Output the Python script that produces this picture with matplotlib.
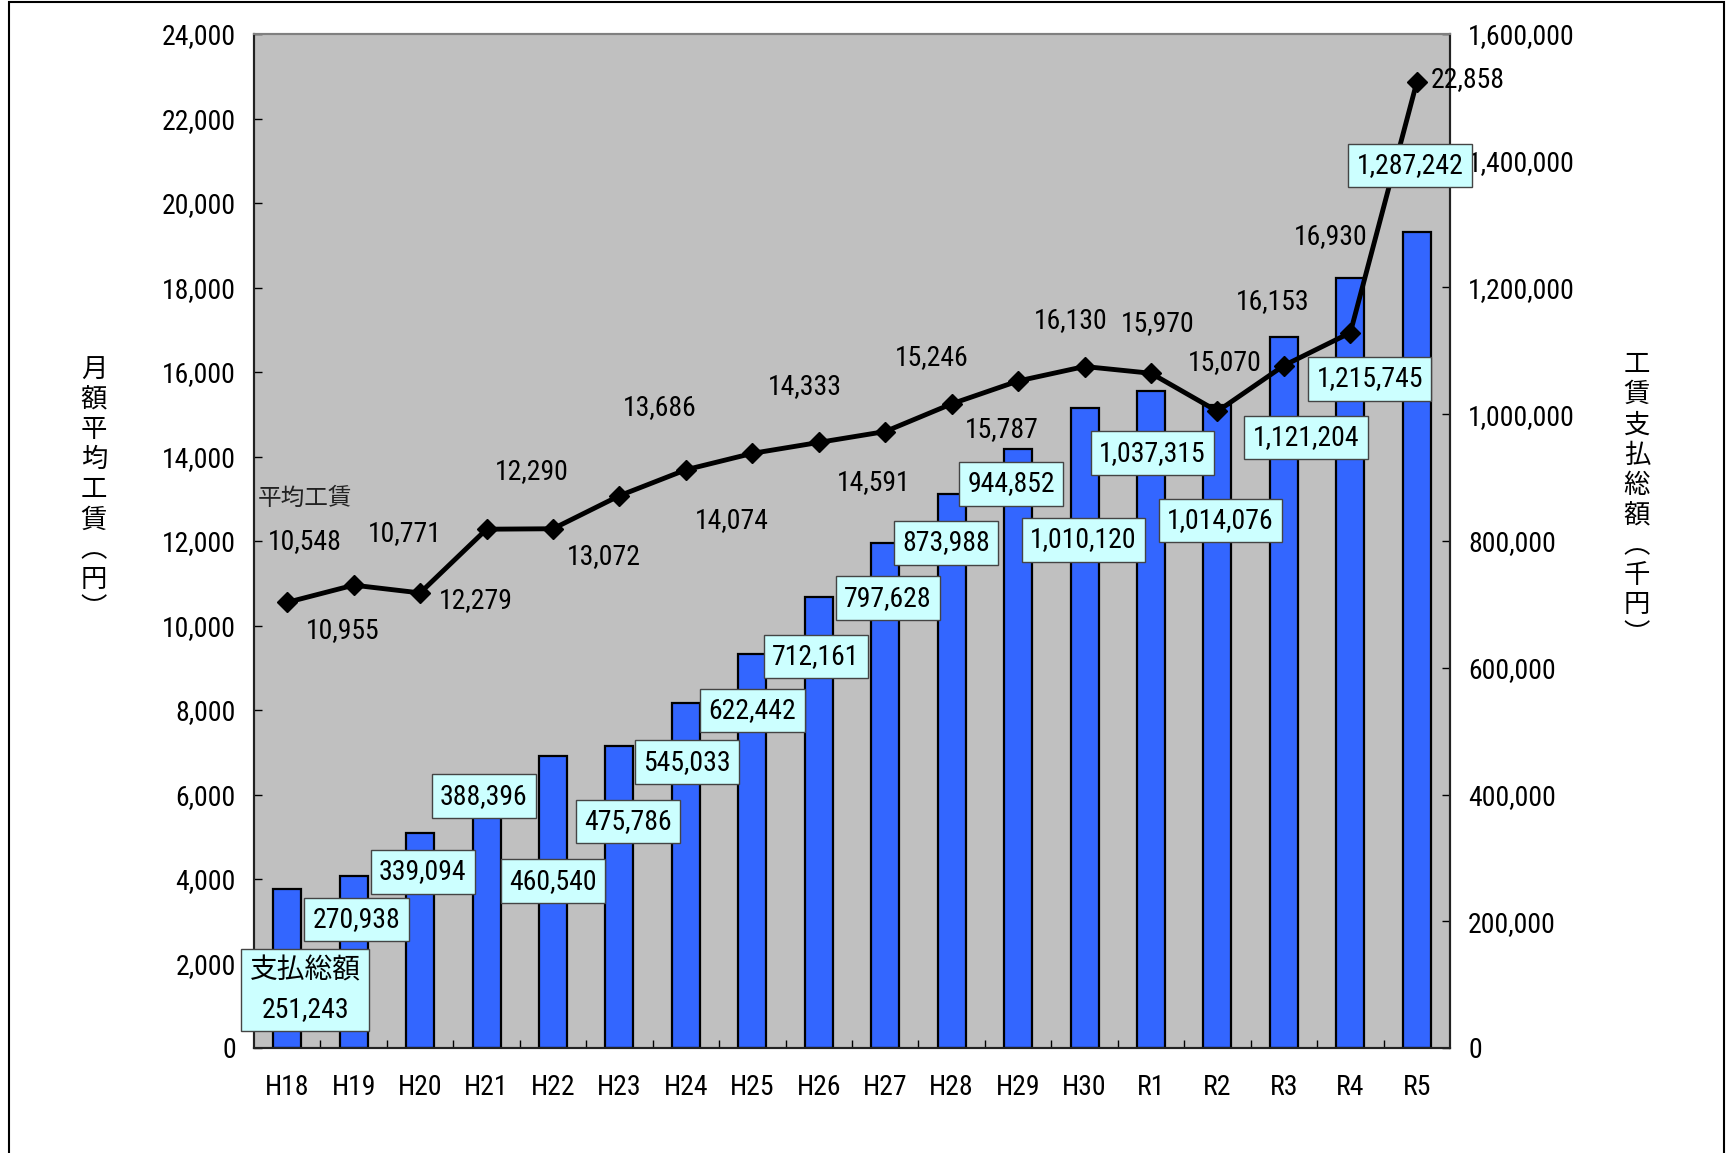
import matplotlib.pyplot as plt
import numpy as np
from matplotlib.patches import Rectangle

plt.rcParams['font.family'] = ['Roboto Condensed', 'Noto Sans CJK JP', 'DejaVu Sans']

years = ['H18', 'H19', 'H20', 'H21', 'H22', 'H23', 'H24', 'H25', 'H26',
         'H27', 'H28', 'H29', 'H30', 'R1', 'R2', 'R3', 'R4', 'R5']
# 工賃支払総額 (千円)
total_pay = [251243, 270938, 339094, 388396, 460540, 475786, 545033, 622442, 712161,
             797628, 873988, 944852, 1010120, 1037315, 1014076, 1121204, 1215745, 1287242]
# 月額平均工賃 (円)
avg_wage = [10548, 10955, 10771, 12279, 12290, 13072, 13686, 14074, 14333,
            14591, 15246, 15787, 16130, 15970, 15070, 16153, 16930, 22858]

# label offsets in points (placement as in the original sheet)
wage_off = [(13, 44), (-8, -33), (-11, 43), (-8, -51), (-15, 41), (-11, -44),
            (-19, 45), (-15, -48), (-10, 40), (-8, -37), (-14, 33), (-12, -35),
            (-10, 33), (5, 36), (5, 35), (-8, 46), (-14, 69), (37, 2)]
pay_off = [(13, -73), (2, -31), (2, -28), (-2, 4), (0, -90), (6, -54),
           (1, -43), (0, -41), (-2, -43), (2, -40), (-4, -35), (-5, -25),
           (-1, -95), (1, -45), (2, -83), (16, -72), (14, -73), (-5, 48)]

W, H = 1731, 1153
fig = plt.figure(figsize=(W / 100, H / 100), dpi=100)
ax = fig.add_axes([254 / W, 1 - 1048 / H, (1450 - 254) / W, (1048 - 34) / H])
ax2 = ax.twinx()

x = np.arange(len(years))

# bars on the right axis, drawn underneath
ax2.set_zorder(1)
ax.set_zorder(2)
ax2.patch.set_visible(True)
ax2.set_facecolor('#c0c0c0')
ax.set_facecolor('none')

ax2.bar(x, total_pay, width=0.42, color='#3366ff', edgecolor='black', linewidth=1.6)
ax2.set_ylim(0, 1600000)
ax2.set_yticks(np.arange(0, 1600001, 200000))
ax2.yaxis.set_major_formatter(plt.FuncFormatter(lambda v, p: f'{int(v):,}'))

ax.plot(x, avg_wage, color='black', linewidth=3.5, marker='D', markersize=10, zorder=3)
ax.set_ylim(0, 24000)
ax.set_yticks(np.arange(0, 24001, 2000))
ax.yaxis.set_major_formatter(plt.FuncFormatter(lambda v, p: f'{int(v):,}'))
ax.set_xlim(-0.5, len(years) - 0.5)
ax.set_xticks(x)
ax.set_xticklabels(years)
ax.set_xticks(np.arange(0.5, len(years) - 1, 1), minor=True)

ax.tick_params(axis='x', which='major', length=0, labelsize=20, pad=19)
ax.tick_params(axis='x', which='minor', direction='in', length=6, width=1)
ax.tick_params(axis='y', direction='in', length=6, width=1, labelsize=20, pad=13)
ax2.tick_params(axis='y', direction='in', length=6, width=1, labelsize=20, pad=13)

for a in (ax, ax2):
    for s in ('left', 'right', 'bottom'):
        a.spines[s].set_color('#222222')
        a.spines[s].set_linewidth(1.5)
    a.spines['top'].set_color('#808080')
    a.spines['top'].set_linewidth(1.5)

# wage labels
for i, v in enumerate(avg_wage):
    ax.annotate(f'{v:,}', (i, v), xytext=wage_off[i], textcoords='offset points',
                ha='center', va='center', fontsize=20, zorder=4)
ax.annotate('平均工賃', (0, avg_wage[0]), xytext=(13, 75), textcoords='offset points',
            ha='center', va='center', fontsize=17, color='#222222', zorder=4)

# payment boxes (on top of the line)
box = dict(boxstyle='square,pad=0.3', facecolor='#ccffff', edgecolor='#444444', linewidth=1)
for i, v in enumerate(total_pay):
    txt = f'{v:,}'
    if i == 0:
        txt = '支払総額\n' + txt
    ax.annotate(txt, (i, v), xycoords=ax2.transData, xytext=pay_off[i],
                textcoords='offset points', ha='center', va='center', fontsize=20,
                linespacing=1.55, bbox=box, zorder=5)

# vertical axis titles
fig.text(94 / W, 1 - 490 / H, '\n'.join('月額平均工賃︵円︶'), ha='center', va='center',
         fontsize=19, linespacing=1.3)
fig.text(1637 / W, 1 - 500 / H, '\n'.join('工賃支払総額︵千円︶'), ha='center', va='center',
         fontsize=19, linespacing=1.3)

fig.patches.append(Rectangle((9 / W, -0.05), (1724 - 9) / W, 1.05 - 2 / H,
                             transform=fig.transFigure, fill=False, edgecolor='black',
                             linewidth=1.5))

fig.savefig('out.png', dpi=100, facecolor='white')
